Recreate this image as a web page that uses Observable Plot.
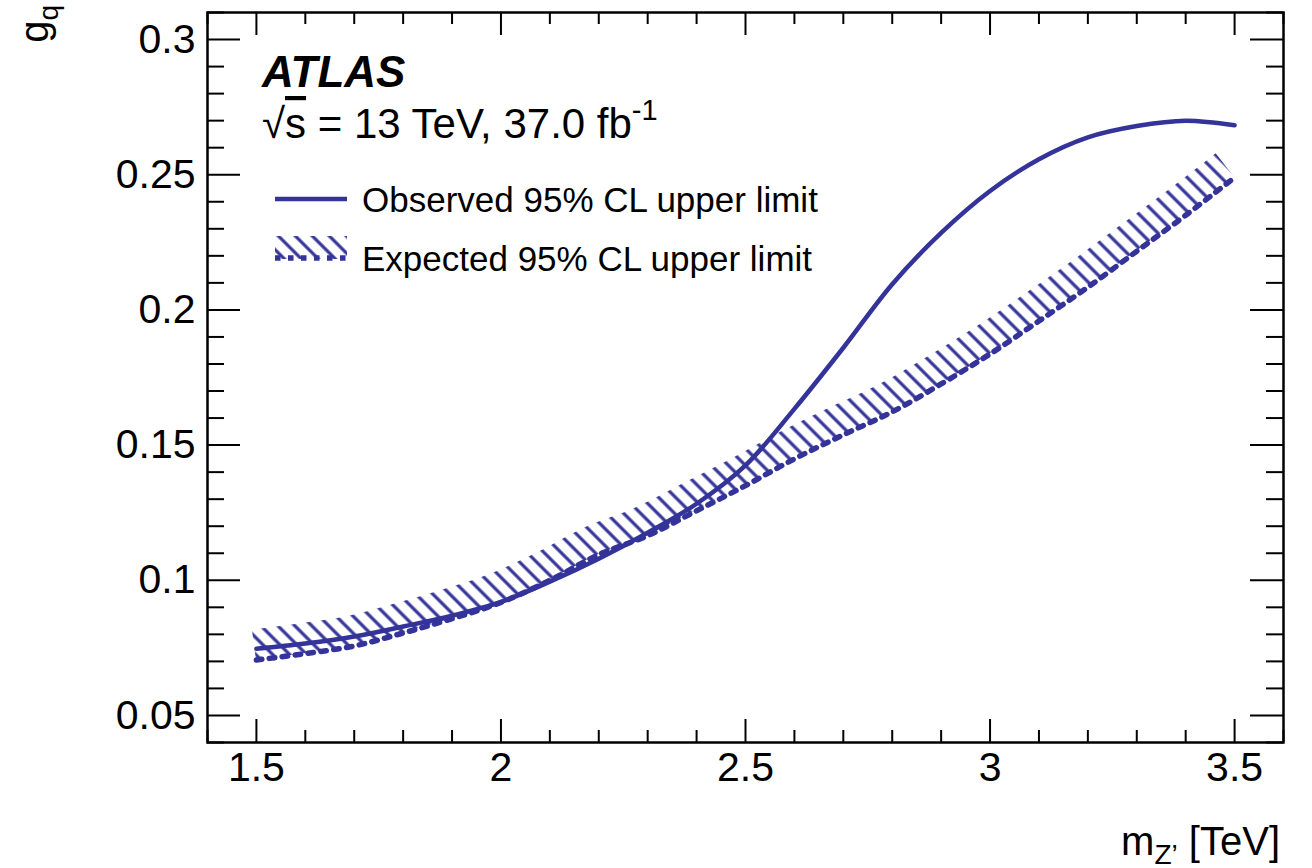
<!DOCTYPE html>
<html>
<head>
<meta charset="utf-8">
<script src="https://cdn.jsdelivr.net/npm/d3@7"></script>
<script src="https://cdn.jsdelivr.net/npm/@observablehq/plot@0.6"></script>
<style>
  html, body { margin: 0; padding: 0; background: #fff; }
  #chart svg { display: block; }
</style>
</head>
<body>
<svg width="0" height="0" style="position:absolute">
  <defs>
    <pattern id="hatch" patternUnits="userSpaceOnUse" width="12" height="12" patternTransform="rotate(-45)">
      <line x1="6" y1="-1" x2="6" y2="13" stroke="#333399" stroke-width="3.2"/>
    </pattern>
  </defs>
</svg>
<div id="chart"></div>
<script>
// ---- data ----
const massTeV = [1.5, 1.6, 1.7, 1.8, 1.9, 2.0, 2.1, 2.2, 2.3, 2.4, 2.5, 2.6, 2.7, 2.8, 2.9, 3.0, 3.1, 3.2, 3.3, 3.4, 3.5];
const observedLimit = [0.0747, 0.0766, 0.0792, 0.0829, 0.0869, 0.0920, 0.0995, 0.1080, 0.1176, 0.1283, 0.1425, 0.1634, 0.1860, 0.2095, 0.2285, 0.2440, 0.2557, 0.2638, 0.2680, 0.2700, 0.2683];
const expectedLimit = [0.0705, 0.0729, 0.0757, 0.0805, 0.0858, 0.0918, 0.1000, 0.1095, 0.1165, 0.1257, 0.1350, 0.1449, 0.1538, 0.1623, 0.1726, 0.1837, 0.1959, 0.2084, 0.2217, 0.2350, 0.2490];
const xTickValues = [1.5, 2, 2.5, 3, 3.5];
const yTickValues = [0.05, 0.1, 0.15, 0.2, 0.25, 0.3];
const legendLabels = ["Observed 95% CL upper limit", "Expected 95% CL upper limit"];

const color = "#333399";
const W = 1312, H = 868;
const mL = 207, mR = 29, mT = 12, mB = 126;
const plotW = W - mL - mR, plotH = H - mT - mB;

const obsData = massTeV.map((m, i) => ({m, g: observedLimit[i]}));
const expData = massTeV.map((m, i) => ({m, g: expectedLimit[i]}));

const yMinor = d3.range(4, 32).filter(i => i % 5 !== 0).map(i => i / 100);
const xMinor = d3.range(14, 37).filter(i => i % 5 !== 0).map(i => i / 10);

// hatched exclusion band on the upper side of the expected curve
function hatchBand(index, scales) {
  const pts = expData.map(d => [scales.x(d.m), scales.y(d.g)]);
  const n = pts.length, w = 30;
  const top = pts.map((p, i) => {
    const a = pts[Math.max(0, i - 1)], b = pts[Math.min(n - 1, i + 1)];
    const dx = b[0] - a[0], dy = b[1] - a[1], len = Math.hypot(dx, dy);
    return [p[0] + w * dy / len, p[1] - w * dx / len];
  });
  const line = d3.line().curve(d3.curveCatmullRom);
  const d = line(pts) + line(top.slice().reverse()).replace(/^M/, "L") + "Z";
  const g = d3.create("svg:g");
  g.append("path").attr("d", d).attr("fill", "url(#hatch)").attr("stroke", "none");
  return g.node();
}

const chart = Plot.plot({
  width: W, height: H,
  marginLeft: mL, marginRight: mR, marginTop: mT, marginBottom: mB,
  x: {domain: [1.4, 3.6]},
  y: {domain: [0.04, 0.31]},
  style: {fontFamily: "'Liberation Sans', Arial, Helvetica, sans-serif", fontSize: "41px", color: "black", background: "white", overflow: "visible"},
  marks: [
    hatchBand,
    Plot.line(expData, {x: "m", y: "g", stroke: color, strokeWidth: 5.5, strokeDasharray: "5.5,7.5", curve: "catmull-rom"}),
    Plot.line(obsData, {x: "m", y: "g", stroke: color, strokeWidth: 4.5, curve: "catmull-rom"}),
    // ticks inside frame
    Plot.tickY(yTickValues, {y: d => d, insetRight: plotW - 33, stroke: "black", strokeWidth: 2}),
    Plot.tickY(yTickValues, {y: d => d, insetLeft: plotW - 33, stroke: "black", strokeWidth: 2}),
    Plot.tickY(yMinor, {y: d => d, insetRight: plotW - 17, stroke: "black", strokeWidth: 2}),
    Plot.tickY(yMinor, {y: d => d, insetLeft: plotW - 17, stroke: "black", strokeWidth: 2}),
    Plot.tickX(xTickValues, {x: d => d, insetTop: plotH - 23, stroke: "black", strokeWidth: 2}),
    Plot.tickX(xTickValues, {x: d => d, insetBottom: plotH - 23, stroke: "black", strokeWidth: 2}),
    Plot.tickX(xMinor, {x: d => d, insetTop: plotH - 12, stroke: "black", strokeWidth: 2}),
    Plot.tickX(xMinor, {x: d => d, insetBottom: plotH - 12, stroke: "black", strokeWidth: 2}),
    Plot.frame({stroke: "black", strokeWidth: 2.5}),
    Plot.axisY({ticks: yTickValues, tickSize: 0, tickPadding: 12, label: null, tickFormat: d => String(+d.toFixed(2))}),
    Plot.axisX({ticks: xTickValues, tickSize: 0, tickPadding: 9, label: null, tickFormat: d => String(d)})
  ]
});

document.getElementById("chart").appendChild(chart);
const svg = d3.select(chart);
const font = "'Liberation Sans', Arial, Helvetica, sans-serif";

// ATLAS label
svg.append("text").attr("x", 262).attr("y", 87).attr("text-anchor", "start")
  .style("font-family", font).style("font-size", "44px").style("font-weight", "bold").style("font-style", "italic")
  .text("ATLAS");

// sqrt(s) line
const en = svg.append("text").attr("x", 262).attr("y", 138).attr("text-anchor", "start")
  .style("font-family", font).style("font-size", "42px");
en.append("tspan").text("√");
en.append("tspan").style("text-decoration", "overline").text("s");
en.append("tspan").text(" = 13 TeV, 37.0 fb");
en.append("tspan").attr("dy", -18).style("font-size", "29px").text("-1");

// legend
const lg = svg.append("g");
lg.append("line").attr("x1", 275).attr("x2", 347).attr("y1", 199).attr("y2", 199)
  .attr("stroke", color).attr("stroke-width", 4.5);
lg.append("text").attr("x", 362).attr("y", 212).attr("text-anchor", "start")
  .style("font-family", font).style("font-size", "35px").text(legendLabels[0]);
lg.append("rect").attr("x", 275).attr("y", 236).attr("width", 72).attr("height", 23).attr("fill", "url(#hatch)");
lg.append("line").attr("x1", 275).attr("x2", 347).attr("y1", 258).attr("y2", 258)
  .attr("stroke", color).attr("stroke-width", 5.5).attr("stroke-dasharray", "5.5,7.5");
lg.append("text").attr("x", 362).attr("y", 271).attr("text-anchor", "start")
  .style("font-family", font).style("font-size", "35px").text(legendLabels[1]);

// y title g_q
const yt = svg.append("text").attr("transform", "translate(48,5) rotate(-90)")
  .attr("text-anchor", "end").style("font-family", font).style("font-size", "40px");
yt.append("tspan").text("g");
yt.append("tspan").attr("dy", 10).style("font-size", "28px").text("q");

// x title m_Z' [TeV]
const xt = svg.append("text").attr("x", 1280).attr("y", 855)
  .attr("text-anchor", "end").style("font-family", font).style("font-size", "40px");
xt.append("tspan").text("m");
xt.append("tspan").attr("dy", 9).style("font-size", "28px").text("Z’");
xt.append("tspan").attr("dy", -9).text(" [TeV]");
</script>
</body>
</html>
